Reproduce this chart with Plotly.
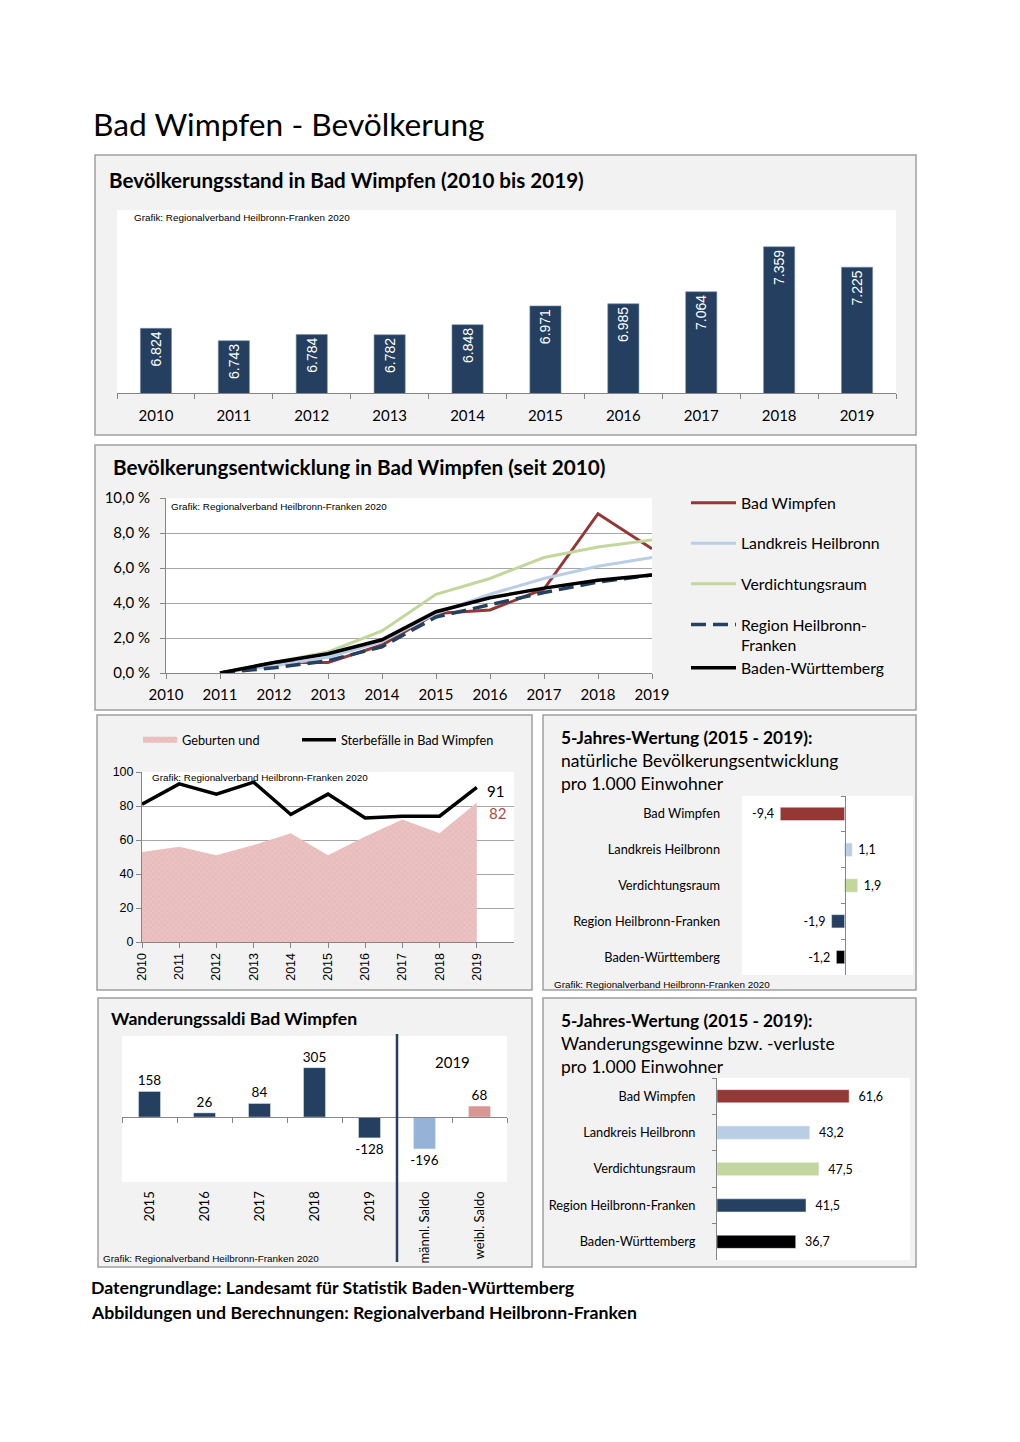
import plotly.graph_objects as go

W, H = 1020, 1442
OFF = 8  # page body offset of the rendered div
CAL = "Lato"
ARI = "Liberation Sans"

# ---------------- data ----------------
years = ["2010", "2011", "2012", "2013", "2014", "2015", "2016", "2017", "2018", "2019"]
population = [6824, 6743, 6784, 6782, 6848, 6971, 6985, 7064, 7359, 7225]

dev_years = [2011, 2012, 2013, 2014, 2015, 2016, 2017, 2018, 2019]
dev_bad_wimpfen = [0.0, 0.6, 0.6, 1.6, 3.4, 3.6, 4.8, 9.1, 7.1]
dev_landkreis = [0.0, 0.4, 0.9, 1.8, 3.4, 4.5, 5.4, 6.1, 6.6]
dev_verdichtung = [0.0, 0.6, 1.2, 2.4, 4.5, 5.4, 6.6, 7.2, 7.6]
dev_region = [0.0, 0.3, 0.7, 1.5, 3.2, 3.9, 4.6, 5.2, 5.6]
dev_bawue = [0.0, 0.6, 1.1, 1.9, 3.5, 4.3, 4.85, 5.3, 5.6]
dev_tick_years = [2010, 2011, 2012, 2013, 2014, 2015, 2016, 2017, 2018, 2019]

bd_years = [2010, 2011, 2012, 2013, 2014, 2015, 2016, 2017, 2018, 2019]
births = [53, 56, 51, 57, 64, 51, 62, 72, 64, 82]
deaths = [81, 93, 87, 94, 75, 87, 73, 74, 74, 91]

regions = ["Bad Wimpfen", "Landkreis Heilbronn", "Verdichtungsraum",
           "Region Heilbronn-Franken", "Baden-Württemberg"]
natural_5y = [-9.4, 1.1, 1.9, -1.9, -1.2]
migration_5y = [61.6, 43.2, 47.5, 41.5, 36.7]
region_colors = ["#953735", "#b9cde5", "#c3d69b", "#254061", "#000000"]

saldo_cats = ["2015", "2016", "2017", "2018", "2019", "männl. Saldo", "weibl. Saldo"]
saldo_vals = [158, 26, 84, 305, -128, -196, 68]
saldo_colors = ["#243f60"] * 5 + ["#95b3d7", "#d99694"]

NOTE = "Grafik: Regionalverband Heilbronn-Franken 2020"


def px(x):
    return (x - OFF) / W


def py(y):
    return 1 - (y - OFF) / H


def de(v):
    s = f"{v:.1f}".replace(".", ",")
    return s + "\u00a0" if v < 0 else "\u00a0" + s


fig = go.Figure()

# ---------- panel 1: population bars ----------
fig.add_trace(go.Bar(
    x=years, y=population, xaxis="x", yaxis="y", width=0.4,
    marker=dict(color="#243f60", line=dict(color="#7f8fa6", width=0.6)),
    texttemplate="%{y:,.0f}", textposition="inside", insidetextanchor="end",
    textangle=-90, constraintext="none",
    textfont=dict(family=ARI, size=14, color="white"),
    showlegend=False, hoverinfo="skip"))

# ---------- panel 2: development lines ----------
dev_series = [
    ("Bad Wimpfen", dev_bad_wimpfen, "#953735", "solid", 3, "legend"),
    ("Landkreis Heilbronn", dev_landkreis, "#b9cde5", "solid", 3, "legend"),
    ("Verdichtungsraum", dev_verdichtung, "#c3d69b", "solid", 3, "legend"),
    ("Region Heilbronn-<br>Franken", dev_region, "#254061", "15px,7px", 3.5, "legend"),
    ("Baden-Württemberg", dev_bawue, "#000000", "solid", 3.5, "legend2"),
]
for i, (name, vals, col, dash, wd, leg) in enumerate(dev_series):
    fig.add_trace(go.Scatter(
        x=dev_years, y=vals, xaxis="x2", yaxis="y2", mode="lines", name=name,
        line=dict(color=col, width=wd, dash=dash),
        legend=leg, legendgroup=f"g{i}", hoverinfo="skip"))

# ---------- panel 3: births / deaths ----------
fig.add_trace(go.Scatter(
    x=bd_years, y=births, xaxis="x3", yaxis="y3", mode="none", fill="tozeroy",
    name="Geburten und",
    fillcolor="#e9bcbc",
    fillpattern=dict(shape="x", size=4, solidity=0.25, fgcolor="#d9a2a2", bgcolor="#ebc2c2"),
    legend="legend3", hoverinfo="skip"))
fig.add_trace(go.Scatter(
    x=bd_years, y=deaths, xaxis="x3", yaxis="y3", mode="lines",
    name="Sterbefälle in Bad Wimpfen", line=dict(color="black", width=3.5),
    legend="legend4", hoverinfo="skip"))

# ---------- panel 4: natural development ----------
fig.add_trace(go.Bar(
    x=natural_5y, y=regions, orientation="h", xaxis="x4", yaxis="y4", width=0.37,
    marker=dict(color=region_colors),
    text=[de(v) for v in natural_5y], textposition="outside", cliponaxis=False,
    constraintext="none",
    textfont=dict(family=CAL, size=12.5, color="black"),
    showlegend=False, hoverinfo="skip"))

# ---------- panel 5: migration saldi ----------
fig.add_trace(go.Bar(
    x=saldo_cats, y=saldo_vals, xaxis="x5", yaxis="y5", width=0.4,
    marker=dict(color=saldo_colors),
    text=[str(v) for v in saldo_vals], textposition="outside", cliponaxis=False,
    constraintext="none",
    textfont=dict(family=CAL, size=13.5, color="black"),
    showlegend=False, hoverinfo="skip"))

# ---------- panel 6: migration 5 years ----------
fig.add_trace(go.Bar(
    x=migration_5y, y=regions, orientation="h", xaxis="x6", yaxis="y6", width=0.36,
    marker=dict(color=region_colors),
    text=["\u00a0\u00a0" + f"{v:.1f}".replace(".", ",") for v in migration_5y],
    textposition="outside", cliponaxis=False, constraintext="none",
    textfont=dict(family=CAL, size=12.5, color="black"),
    showlegend=False, hoverinfo="skip"))

AX = "#868686"
GRID = "#a6a6a6"

# zero positions (paper) for free axes
x4_dom = [px(742), px(913)]
x4_rng = [-15, 10]
y4_pos = x4_dom[0] + (0 - x4_rng[0]) / (x4_rng[1] - x4_rng[0]) * (x4_dom[1] - x4_dom[0])
y5_dom = [py(1182), py(1036)]
y5_rng = [-400, 500]
x5_pos = y5_dom[0] + (0 - y5_rng[0]) / (y5_rng[1] - y5_rng[0]) * (y5_dom[1] - y5_dom[0])

LEG = dict(bgcolor="rgba(0,0,0,0)", xanchor="left", yanchor="top")

fig.update_layout(
    width=W, height=H, autosize=False,
    margin=dict(l=0, r=0, t=0, b=0, pad=0, autoexpand=False),
    paper_bgcolor="white", plot_bgcolor="rgba(0,0,0,0)",
    separators=",.",
    font=dict(family=CAL, color="black"),
    # panel 1
    xaxis=dict(domain=[px(117), px(896)], anchor="y", type="category",
               tickson="boundaries", ticks="outside", ticklen=5, tickcolor=AX,
               showline=True, linecolor=AX, showgrid=False, automargin=False,
               ticklabelstandoff=9, tickfont=dict(family=CAL, size=15)),
    yaxis=dict(domain=[py(393), py(210)], anchor="x", range=[6400, 7600],
               visible=False, automargin=False),
    # panel 2
    xaxis2=dict(domain=[px(166), px(652)], anchor="y2", range=[2010, 2019],
                tickvals=dev_tick_years, ticktext=[str(v) for v in dev_tick_years],
                ticks="outside", ticklen=5, tickcolor=AX, showline=True, linecolor=AX,
                showgrid=False, zeroline=False, automargin=False, ticklabelstandoff=3,
                tickfont=dict(family=CAL, size=15)),
    yaxis2=dict(domain=[py(673), py(498)], anchor="x2", range=[0, 10], dtick=2,
                tickformat=".1f", ticksuffix=" %", showgrid=True, gridcolor=GRID,
                showline=True, linecolor=AX, ticks="outside", ticklen=5, tickcolor=AX,
                zeroline=False, automargin=False, ticklabelstandoff=7,
                tickfont=dict(family=CAL, size=15)),
    # panel 3
    xaxis3=dict(domain=[px(142), px(514)], anchor="y3", range=[2010, 2020],
                tickvals=bd_years, ticktext=[str(v) for v in bd_years], tickangle=-90,
                ticks="outside", ticklen=5, tickcolor=AX, showline=True, linecolor=AX,
                showgrid=False, zeroline=False, automargin=False,
                tickfont=dict(family=ARI, size=12.5)),
    yaxis3=dict(domain=[py(942), py(772)], anchor="x3", range=[0, 100], dtick=20,
                showgrid=True, gridcolor=GRID, showline=True, linecolor=AX,
                ticks="outside", ticklen=5, tickcolor=AX, zeroline=False,
                automargin=False, tickfont=dict(family=ARI, size=12.5)),
    # panel 4
    xaxis4=dict(domain=x4_dom, anchor="y4", range=x4_rng, visible=False, automargin=False),
    yaxis4=dict(domain=[py(975), py(796)], anchor="free", position=y4_pos,
                type="category", autorange="reversed", showline=True, linecolor=AX,
                ticks="outside", ticklen=4, tickcolor=AX, tickson="boundaries",
                ticklabelstandoff=122, showgrid=False, automargin=False,
                tickfont=dict(family=CAL, size=12.8)),
    # panel 5
    xaxis5=dict(domain=[px(122), px(507)], anchor="free", position=x5_pos,
                type="category", showline=True, linecolor=AX, ticks="outside",
                ticklen=5, tickcolor=AX, tickson="boundaries", tickangle=-90,
                ticklabelstandoff=68, showgrid=False, automargin=False,
                tickfont=dict(family=CAL, size=13)),
    yaxis5=dict(domain=y5_dom, anchor="x5", range=y5_rng, visible=False, automargin=False),
    # panel 6
    xaxis6=dict(domain=[px(717), px(910)], anchor="y6", range=[0, 90], visible=False,
                automargin=False),
    yaxis6=dict(domain=[py(1260), py(1078)], anchor="x6", type="category",
                autorange="reversed", showline=True, linecolor=AX, ticks="outside",
                ticklen=4, tickcolor=AX, tickson="boundaries", ticklabelstandoff=18,
                showgrid=False, automargin=False, tickfont=dict(family=CAL, size=12.8)),
    legend=dict(x=px(686), y=py(486), font=dict(family=CAL, size=15.8),
                tracegroupgap=17, valign="top", traceorder="grouped", itemwidth=45, **LEG),
    legend2=dict(x=px(686), y=py(651), font=dict(family=CAL, size=15.8), itemwidth=45, **LEG),
    legend3=dict(x=px(138), y=py(725), font=dict(family=CAL, size=12.7), itemwidth=34, **LEG),
    legend4=dict(x=px(297), y=py(725), font=dict(family=CAL, size=12.7), itemwidth=34, **LEG),
)

# ---------- panel frames and white plot areas ----------
shapes = []
for (x0, y0, x1, y1) in [(95, 155, 916, 435), (95, 445, 916, 710), (97, 715, 532, 990),
                         (543, 715, 916, 990), (98, 998, 532, 1267), (543, 998, 916, 1267)]:
    shapes.append(dict(type="rect", xref="paper", yref="paper", x0=px(x0), x1=px(x1),
                       y0=py(y1), y1=py(y0), fillcolor="#f2f2f2",
                       line=dict(color="#a0a0a0", width=1.5), layer="below"))
for n in ["", "2", "3", "4", "5", "6"]:
    shapes.append(dict(type="rect", xref=f"x{n} domain", yref=f"y{n} domain",
                       x0=0, x1=1, y0=0, y1=1, fillcolor="white",
                       line=dict(width=0), layer="below"))
# divider in panel 5
shapes.append(dict(type="line", xref="x5", yref="paper", x0=4.5, x1=4.5,
                   y0=py(1262), y1=py(1034), line=dict(color="#243f60", width=2.5)))
fig.update_layout(shapes=shapes)


def ann(x, y, text, size, family=CAL, color="black", xanchor="left", **kw):
    return dict(x=px(x), y=py(y), xref="paper", yref="paper", text=text, showarrow=False,
                xanchor=xanchor, yanchor="middle", font=dict(family=family, size=size, color=color), **kw)


annotations = [
    ann(91, 124, "Bad Wimpfen - Bevölkerung", 31.7),
    ann(107, 180, "<b>Bevölkerungsstand in Bad Wimpfen (2010 bis 2019)</b>", 20.6),
    ann(111, 467, "<b>Bevölkerungsentwicklung in Bad Wimpfen (seit 2010)</b>", 20.7),
    ann(559, 737, "<b>5-Jahres-Wertung (2015 - 2019):</b>", 17.3),
    ann(559, 760, "natürliche Bevölkerungsentwicklung", 17.5),
    ann(559, 783, "pro 1.000 Einwohner", 17.5),
    ann(109, 1018, "<b>Wanderungssaldi Bad Wimpfen</b>", 17.6),
    ann(559, 1020, "<b>5-Jahres-Wertung (2015 - 2019):</b>", 17.3),
    ann(559, 1043, "Wanderungsgewinne bzw. -verluste", 17.5),
    ann(559, 1066, "pro 1.000 Einwohner", 17.5),
    ann(89, 1287, "<b>Datengrundlage: Landesamt für Statistik Baden-Württemberg</b>", 17.7),
    ann(89, 1312, "<b>Abbildungen und Berechnungen: Regionalverband Heilbronn-Franken</b>", 17.7),
    ann(132, 218, NOTE, 9.9, family=ARI),
    ann(169, 506, NOTE, 9.9, family=ARI),
    ann(150, 777, NOTE, 9.9, family=ARI),
    ann(552, 984, NOTE, 9.9, family=ARI),
    ann(101, 1258, NOTE, 9.9, family=ARI),
]
# data labels for last points in panel 3
annotations.append(dict(x=bd_years[-1], y=deaths[-1], xref="x3", yref="y3",
                        text=str(deaths[-1]), showarrow=False, xanchor="left", yanchor="middle",
                        xshift=8, yshift=-4, font=dict(family=CAL, size=15, color="black")))
annotations.append(dict(x=bd_years[-1], y=births[-1], xref="x3", yref="y3",
                        text=str(births[-1]), showarrow=False, xanchor="left", yanchor="middle",
                        xshift=10, yshift=-10, font=dict(family=CAL, size=15, color="#b04a48")))
# "2019" label over gender saldi
annotations.append(dict(x=5.5, y=py(1062), xref="x5", yref="paper", text="2019",
                        xanchor="center", yanchor="middle",
                        showarrow=False, font=dict(family=CAL, size=15, color="black")))
fig.update_layout(annotations=annotations)

fig.write_html("out.html")
